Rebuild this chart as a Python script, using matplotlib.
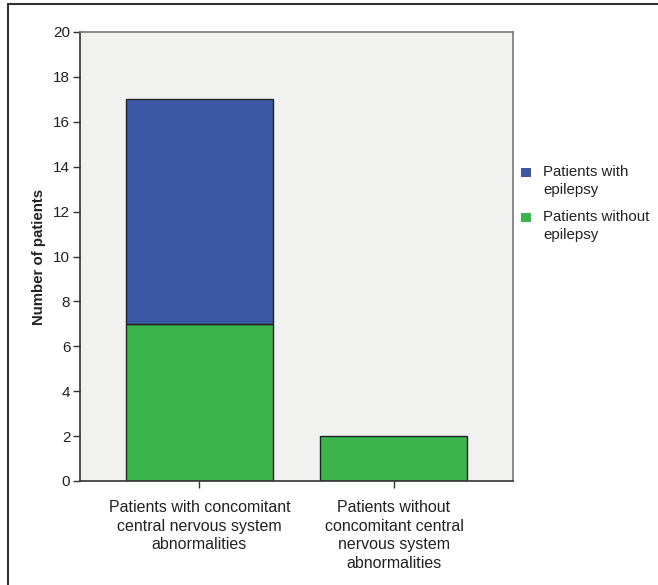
import matplotlib
matplotlib.use("Agg")
import matplotlib.pyplot as plt
from matplotlib.patches import Rectangle

plt.rcParams['font.family'] = ['Liberation Sans', 'DejaVu Sans']

categories = [
    "Patients with concomitant\ncentral nervous system\nabnormalities",
    "Patients without\nconcomitant central\nnervous system\nabnormalities",
]
without_epilepsy = [7, 2]
with_epilepsy = [10, 0]
series_labels = ["Patients with\nepilepsy", "Patients without\nepilepsy"]
yticks = [0, 2, 4, 6, 8, 10, 12, 14, 16, 18, 20]

blue = "#3d57a7"
green = "#3ab54b"
series_colors = [blue, green]

W, H = 658, 585
fig = plt.figure(figsize=(W / 100, H / 100), dpi=100)
ax = fig.add_axes([80 / W, 1 - 481 / H, (513 - 80) / W, (481 - 32) / H])
ax.set_facecolor("#f1f1f0")

x = list(range(len(categories)))
ax.bar(x, without_epilepsy, width=0.756, color=green, edgecolor="#222222", linewidth=1.0, zorder=2)
xs = [xi for xi, v in zip(x, with_epilepsy) if v > 0]
bv = [v for v in with_epilepsy if v > 0]
bb = [w for w, v in zip(without_epilepsy, with_epilepsy) if v > 0]
ax.bar(xs, bv, bottom=bb, width=0.756, color=blue, edgecolor="#222222", linewidth=1.0, zorder=2)

ax.set_xlim(-0.614, 1.612)
ax.set_ylim(0, 20)
ax.set_yticks(yticks)
ax.set_xticks(x)
ax.set_xticklabels(categories, fontsize=11.5, color="#222222", linespacing=1.28)
ax.tick_params(axis="y", direction="out", length=5, width=1, color="#333333", labelsize=11,
               labelcolor="#222222", pad=2)
ax.tick_params(axis="x", direction="out", length=5, width=1, color="#333333", pad=9)

for side in ["left", "bottom"]:
    ax.spines[side].set_color("#333333")
    ax.spines[side].set_linewidth(1.2)
for side in ["top", "right"]:
    ax.spines[side].set_color("#777777")
    ax.spines[side].set_linewidth(1.2)

ax.set_ylabel("Number of patients", fontsize=10.8, fontweight="bold", color="#222222", labelpad=5)

# legend: square swatch next to the first line of each two-line label
legend_rows = [172, 217]
for label, color, row in zip(series_labels, series_colors, legend_rows):
    fig.patches.append(Rectangle((521 / W, 1 - (row + 4.5) / H), 10 / W, 9 / H,
                                 transform=fig.transFigure, facecolor=color, edgecolor="none"))
    fig.text(543 / W, 1 - (row + 9) / H, label, fontsize=10.8, color="#222222",
             ha="left", va="center", linespacing=1.38)

fig.patches.append(Rectangle((8 / W, -0.05), 1.1, 1 - 4 / H + 0.05, transform=fig.transFigure,
                             fill=False, edgecolor="#333333", linewidth=1.5))

fig.savefig("out.png", dpi=100)
